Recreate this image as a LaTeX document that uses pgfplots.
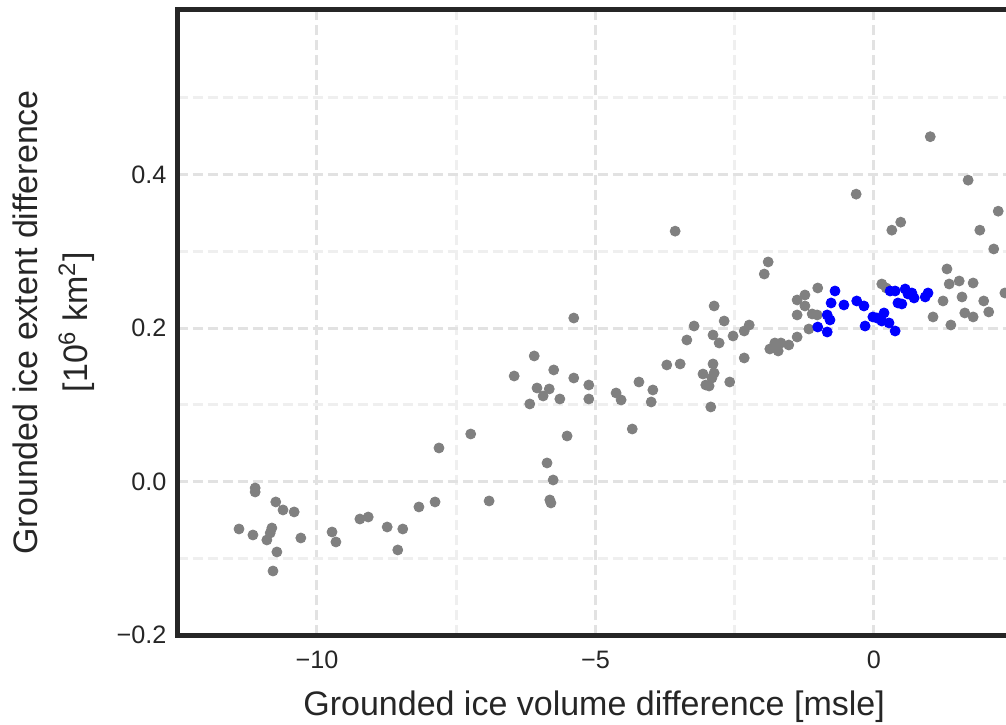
\documentclass[border=0pt]{standalone}
\usepackage{fontspec}
\setmainfont{Liberation Sans}
\usepackage{pgfplots}
\pgfplotsset{compat=1.18}
\definecolor{spine}{HTML}{262626}
\definecolor{gridmaj}{HTML}{E2E2E2}
\definecolor{gridmin}{HTML}{EFEFEF}
\definecolor{dotgray}{HTML}{808080}
\definecolor{dotblue}{HTML}{0000FF}

\begin{document}
\begin{tikzpicture}
\begin{axis}[
    x=27.85pt, y=384pt,
    xmin=-12.5, xmax=2.45, ymin=-0.2, ymax=0.615,
    axis line style={line width=2.5pt, spine},
    xtick={-10,-5,0}, xticklabels={−10,−5,0},
    ytick={-0.2,0,0.2,0.4}, yticklabels={−0.2,0.0,0.2,0.4},
    minor xtick={-12.5,-7.5,-2.5},
    minor ytick={-0.1,0.1,0.3,0.5},
    major tick length=0pt, minor tick length=0pt,
    grid=both,
    major grid style={gridmaj, line width=1.5pt, dash pattern=on 5pt off 2.5pt},
    minor grid style={gridmin, line width=1.5pt, dash pattern=on 5pt off 2.5pt},
    tick label style={font=\fontsize{12.6}{14}\selectfont, text=spine},
    xticklabel style={anchor=base, yshift=-16.5pt},
    yticklabel style={anchor=east, inner sep=0pt, xshift=-5.5pt},
    label style={font=\fontsize{17}{25}\selectfont, text=spine},
    xlabel={Grounded ice volume difference [msle]},
    xlabel style={at={(axis description cs:0.5,0)}, anchor=base, yshift=-40pt},
    ylabel={Grounded ice extent difference\\{}[10\textsuperscript{6} km\textsuperscript{2}]},
    ylabel style={at={([xshift=-41.25pt]axis description cs:0,0.5)}, anchor=south, inner sep=0pt, align=center},
]
% other ensemble members
\addplot[only marks, mark=*, mark size=2.5pt, color=dotgray] coordinates {
(-11.11,-0.0082) (-11.11,-0.0134) (-10.74,-0.0264) (-10.61,-0.0368) (-10.41,-0.0394)
(-11.40,-0.0616) (-11.15,-0.0694) (-10.81,-0.0603) (-10.84,-0.0668) (-10.90,-0.0759)
(-10.29,-0.0733) (-10.72,-0.0915) (-10.79,-0.1163) (-9.73,-0.0655) (-9.66,-0.0785)
(-9.23,-0.0486) (-9.08,-0.0460) (-8.74,-0.0590) (-8.46,-0.0616) (-8.55,-0.0889)
(-8.17,-0.0329) (-7.88,-0.0264) (-7.81,0.0439) (-7.24,0.0621) (-6.91,-0.0251)
(-6.46,0.1376) (-6.10,0.1637) (-5.75,0.1455) (-5.39,0.1350) (-5.39,0.2131)
(-6.05,0.1220) (-5.83,0.1207) (-5.94,0.1116) (-5.64,0.1077) (-6.18,0.1012)
(-5.51,0.0595) (-5.87,0.0244) (-5.76,0.0022) (-5.82,-0.0238) (-5.80,-0.0277)
(-5.12,0.1259) (-5.12,0.1077) (-4.63,0.1155) (-4.54,0.1064) (-4.22,0.1298)
(-3.97,0.1194) (-4.00,0.1038) (-4.34,0.0686) (-3.72,0.1520) (-3.48,0.1533)
(-3.36,0.1845) (-3.23,0.2027) (-2.87,0.2288) (-2.69,0.2092) (-2.89,0.1910)
(-2.78,0.1806) (-2.53,0.1897) (-2.33,0.1962) (-2.24,0.2040) (-2.89,0.1533)
(-3.07,0.1402) (-2.87,0.1415) (-2.91,0.1350) (-3.02,0.1259) (-2.96,0.1246)
(-2.59,0.1298) (-2.93,0.0973) (-2.33,0.1611) (-1.90,0.2861) (-1.97,0.2704)
(-1.78,0.1806) (-1.67,0.1806) (-1.87,0.1728) (-1.72,0.1702) (-1.53,0.1780)
(-1.38,0.2366) (-1.38,0.2171) (-1.38,0.1884) (-1.24,0.2431) (-1.24,0.2288)
(-1.01,0.2522) (-1.11,0.2184) (-1.02,0.2171) (-1.17,0.1988) (-3.57,0.3262)
(-0.32,0.3744) (1.01,0.4492) (1.69,0.3926) (2.23,0.3522) (1.90,0.3275)
(0.32,0.3275) (0.48,0.3379) (2.15,0.3030) (1.31,0.2770) (1.35,0.2574)
(1.53,0.2613) (1.78,0.2587) (2.35,0.2457) (1.24,0.2353) (1.58,0.2405)
(1.97,0.2353) (1.63,0.2197) (1.78,0.2145) (2.06,0.2210) (1.06,0.2145)
(1.38,0.2040) (0.14,0.2574) (0.22,0.2522)
};
% selected members
\addplot[only marks, mark=*, mark size=2.5pt, color=dotblue] coordinates {
(-0.70,0.2483) (-0.77,0.2327) (-0.84,0.2171) (-0.79,0.2106) (-1.01,0.2014)
(-0.84,0.1949) (-0.54,0.2301) (-0.31,0.2353) (-0.18,0.2288) (-0.16,0.2027)
(-0.02,0.2145) (0.05,0.2132) (0.14,0.2092) (0.18,0.2197) (0.27,0.2067)
(0.38,0.1962) (0.29,0.2483) (0.38,0.2483) (0.56,0.2509) (0.61,0.2444)
(0.68,0.2457) (0.72,0.2392) (0.43,0.2327) (0.50,0.2314) (0.92,0.2405)
(0.97,0.2457)
};
\coordinate (bbl) at (axis cs:-15.691,-0.3168);
\coordinate (btr) at (axis cs:2.370,0.6272);
\end{axis}
\pgfresetboundingbox
\useasboundingbox (bbl) rectangle (btr);
\end{tikzpicture}
\end{document}
